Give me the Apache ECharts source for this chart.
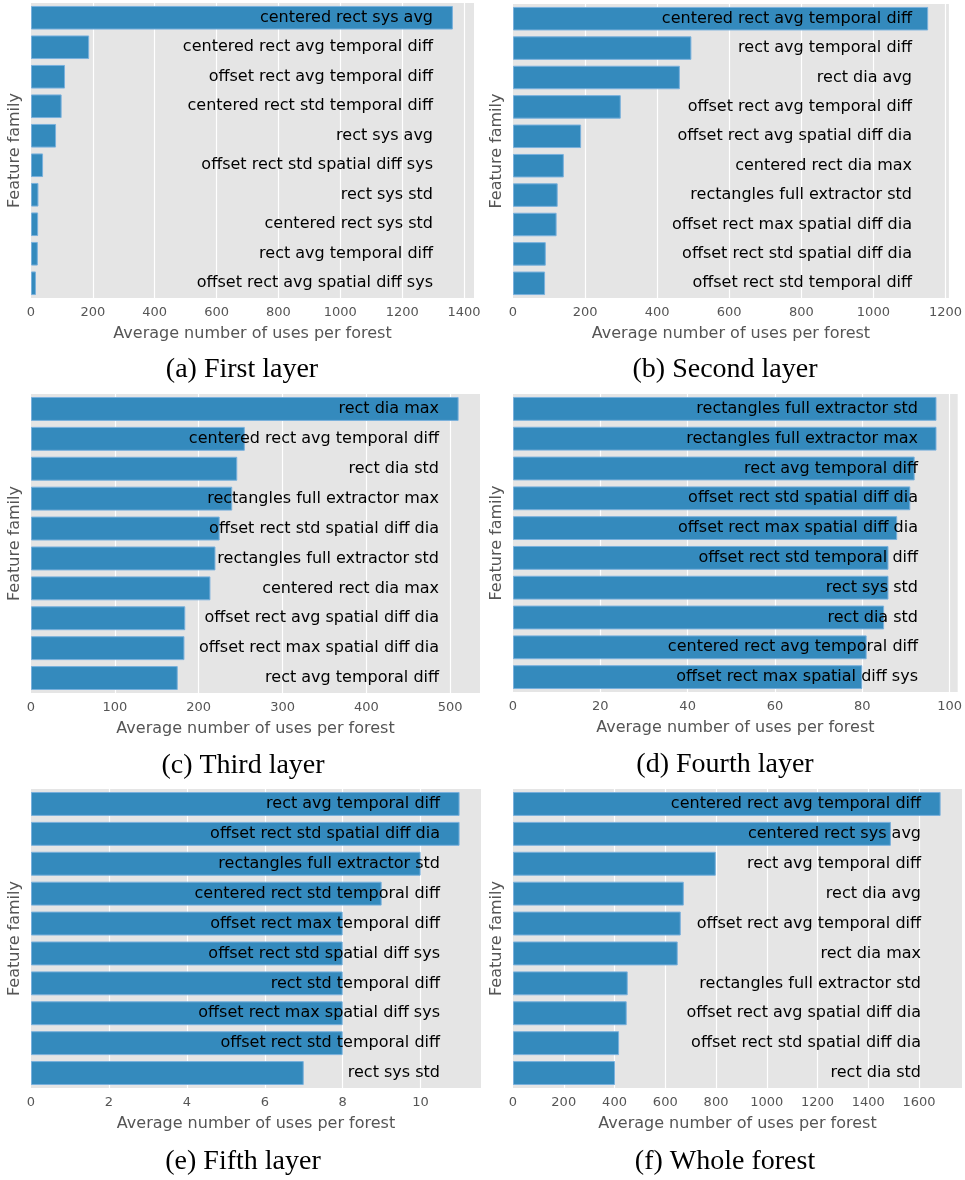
<!DOCTYPE html>
<html>
<head>
<meta charset="utf-8">
<script src="https://cdn.jsdelivr.net/npm/echarts@6/dist/echarts.min.js"></script>
<style>
html,body{margin:0;padding:0;background:#fff;}
#chart{width:965px;height:1180px;}
</style>
</head>
<body>
<div id="chart"></div>
<script>
// ---------- data ----------
const catsA = ["centered rect sys avg","centered rect avg temporal diff","offset rect avg temporal diff","centered rect std temporal diff","rect sys avg","offset rect std spatial diff sys","rect sys std","centered rect sys std","rect avg temporal diff","offset rect avg spatial diff sys"];
const valsA = [1364, 188, 110, 99, 81, 39, 24, 23, 22, 16];

const catsB = ["centered rect avg temporal diff","rect avg temporal diff","rect dia avg","offset rect avg temporal diff","offset rect avg spatial diff dia","centered rect dia max","rectangles full extractor std","offset rect max spatial diff dia","offset rect std spatial diff dia","offset rect std temporal diff"];
const valsB = [1152, 495, 463, 299, 189, 141, 124, 121, 91, 89];

const catsC = ["rect dia max","centered rect avg temporal diff","rect dia std","rectangles full extractor max","offset rect std spatial diff dia","rectangles full extractor std","centered rect dia max","offset rect avg spatial diff dia","offset rect max spatial diff dia","rect avg temporal diff"];
const valsC = [510, 255, 246, 240, 225, 220, 214, 184, 183, 175];

const catsD = ["rectangles full extractor std","rectangles full extractor max","rect avg temporal diff","offset rect std spatial diff dia","offset rect max spatial diff dia","offset rect std temporal diff","rect sys std","rect dia std","centered rect avg temporal diff","offset rect max spatial diff sys"];
const valsD = [97, 97, 92, 91, 88, 86, 86, 85, 81, 80];

const catsE = ["rect avg temporal diff","offset rect std spatial diff dia","rectangles full extractor std","centered rect std temporal diff","offset rect max temporal diff","offset rect std spatial diff sys","rect std temporal diff","offset rect max spatial diff sys","offset rect std temporal diff","rect sys std"];
const valsE = [11, 11, 10, 9, 8, 8, 8, 8, 8, 7];

const catsF = ["centered rect avg temporal diff","centered rect sys avg","rect avg temporal diff","rect dia avg","offset rect avg temporal diff","rect dia max","rectangles full extractor std","offset rect avg spatial diff dia","offset rect std spatial diff dia","rect dia std"];
const valsF = [1685, 1489, 799, 673, 661, 649, 452, 448, 418, 402];

const captions = ["(a) First layer","(b) Second layer","(c) Third layer","(d) Fourth layer","(e) Fifth layer","(f) Whole forest"];
const tickSteps = [200, 200, 100, 20, 2, 200];
const xTitle = "Average number of uses per forest";
const yTitle = "Feature family";

// ---------- layout ----------
const panels = [
  {cats: catsA, vals: valsA, left: 31,  top: 3,   width: 443, height: 295, cap: [242, 370]},
  {cats: catsB, vals: valsB, left: 513, top: 4,   width: 440, height: 294, cap: [725, 370]},
  {cats: catsC, vals: valsC, left: 31,  top: 394, width: 449, height: 299, cap: [243, 766]},
  {cats: catsD, vals: valsD, left: 513, top: 394, width: 446, height: 298, cap: [725, 765]},
  {cats: catsE, vals: valsE, left: 31,  top: 789, width: 450, height: 299, cap: [243, 1162]},
  {cats: catsF, vals: valsF, left: 513, top: 789, width: 449, height: 299, cap: [725, 1162]}
];

const grid = [], xAxis = [], yAxis = [], series = [], graphic = [];
panels.forEach((p, i) => {
  grid.push({left: p.left, top: p.top, width: p.width, height: p.height,
    show: true, backgroundColor: '#E5E5E5', borderWidth: 0});
  xAxis.push({
    type: 'value', gridIndex: i, min: 0, z: 0,
    max: function (v) { return v.max * 1.05; },
    interval: tickSteps[i],
    name: xTitle, nameLocation: 'middle', nameGap: 27.5,
    nameTextStyle: {color: '#555555', fontSize: 16, fontFamily: 'DejaVu Sans'},
    axisLine: {show: false}, axisTick: {show: false},
    axisLabel: {color: '#555555', fontSize: 13, fontFamily: 'DejaVu Sans', margin: 8,
      showMaxLabel: false, showMinLabel: true,
      formatter: function (v) { return String(v); }},
    splitLine: {show: true, showMinLine: false, showMaxLine: false,
      lineStyle: {color: '#ffffff', width: 1.2}}
  });
  yAxis.push({
    type: 'category', gridIndex: i, data: p.cats, inverse: true, position: 'left', z: 10,
    name: yTitle, nameLocation: 'middle', nameGap: 8,
    nameTextStyle: {color: '#555555', fontSize: 16, fontFamily: 'DejaVu Sans'},
    axisLine: {show: false}, axisTick: {show: false}, splitLine: {show: false},
    axisLabel: {color: '#000000', fontSize: 16, fontFamily: 'DejaVu Sans',
      align: 'right', margin: -(p.width - 41), interval: 0}
  });
  series.push({
    type: 'bar', xAxisIndex: i, yAxisIndex: i, data: p.vals,
    barCategoryGap: '20%',
    itemStyle: {color: '#348ABD', borderColor: '#79B0DC', borderWidth: 1},
    z: 2, silent: true
  });
  graphic.push({
    type: 'text', x: p.cap[0], y: p.cap[1], z: 10,
    style: {text: captions[i], fill: '#000', font: '28px "Liberation Serif"',
      align: 'center', verticalAlign: 'middle'}
  });
});

const chart = echarts.init(document.getElementById('chart'), null, {renderer: 'canvas'});
chart.setOption({
  animation: false,
  backgroundColor: '#ffffff',
  grid, xAxis, yAxis, series, graphic
});
</script>
</body>
</html>
